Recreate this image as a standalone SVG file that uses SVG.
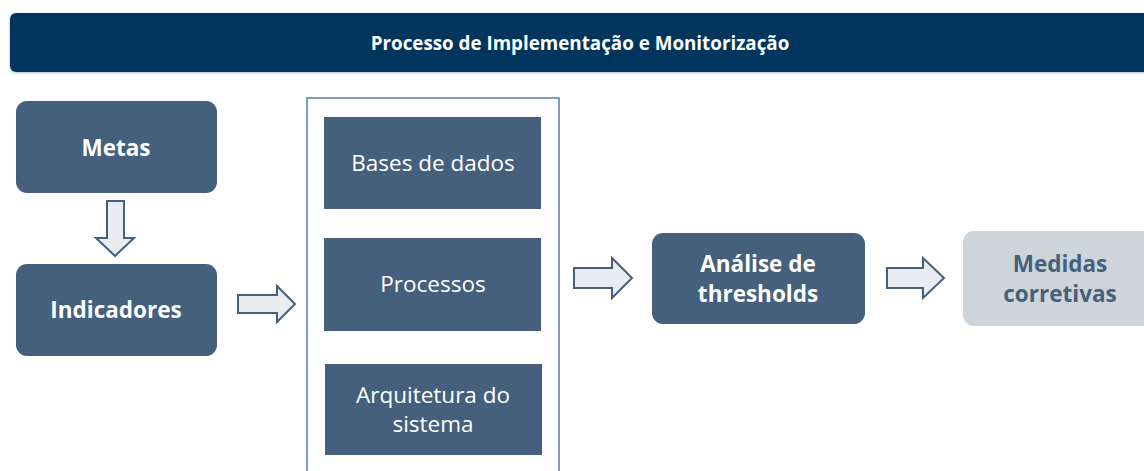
<svg xmlns="http://www.w3.org/2000/svg" width="1144" height="471" viewBox="0 0 1144 471">
<style>
.box{fill:#45607d;}
.lt{fill:#ffffff;font-family:"Open Sans","Liberation Sans",Arial,sans-serif;text-anchor:middle;font-size:22.5px;}
.b{font-weight:bold;}
.arr{fill:#e9edf2;stroke:#45607d;stroke-width:2;stroke-linejoin:miter;}
</style>
<defs>
<filter id="sh" x="-5%" y="-30%" width="110%" height="160%">
<feGaussianBlur in="SourceAlpha" stdDeviation="1.5"/>
<feOffset dx="0" dy="1" result="o"/>
<feFlood flood-color="#7a8ea6" flood-opacity="0.6"/>
<feComposite in2="o" operator="in"/>
<feMerge><feMergeNode/><feMergeNode in="SourceGraphic"/></feMerge>
</filter>
</defs>
<rect width="1144" height="471" fill="#ffffff"/>
<g id="header">
<rect x="10" y="13" width="1150" height="59" rx="6" fill="#03355d" filter="url(#sh)"/>
<text class="lt b" x="580" y="50" style="font-size:18.8px">Processo de Implementação e Monitorização</text>
</g>
<g id="metas">
<rect class="box" x="16" y="101" width="201" height="92" rx="11"/>
<text class="lt b" x="116" y="156">Metas</text>
</g>
<g id="indicadores">
<rect class="box" x="16" y="264" width="201" height="92" rx="11"/>
<text class="lt b" x="116" y="318">Indicadores</text>
</g>
<g id="container">
<rect x="307" y="98" width="252" height="390" fill="none" stroke="#5b7bab" stroke-width="1.5"/>
</g>
<g id="bases">
<rect class="box" x="324" y="117" width="217" height="92"/>
<text class="lt" x="433" y="171">Bases de dados</text>
</g>
<g id="processos">
<rect class="box" x="324" y="238" width="217" height="93"/>
<text class="lt" x="433" y="292">Processos</text>
</g>
<g id="arquitetura">
<rect class="box" x="325" y="364" width="217" height="91"/>
<text class="lt" x="433" y="403">Arquitetura do</text>
<text class="lt" x="433" y="432">sistema</text>
</g>
<g id="analise">
<rect class="box" x="652" y="233" width="213" height="91" rx="11"/>
<text class="lt b" x="758" y="272">Análise de</text>
<text class="lt b" x="758" y="302">thresholds</text>
</g>
<g id="medidas">
<rect x="963" y="231" width="200" height="95" rx="11" fill="#cdd5da"/>
<text class="lt b" x="1060" y="272" style="fill:#45607d">Medidas</text>
<text class="lt b" x="1060" y="302" style="fill:#45607d">corretivas</text>
</g>
<g id="connectors">
<polygon class="arr" points="107,201 124,201 124,238 134,238 115,256 96,238 107,238"/>
<polygon class="arr" points="238,295 277,295 277,286 295,304 277,322 277,313 238,313"/>
<polygon class="arr" points="574,268 612,268 612,258 632,278 612,298 612,288 574,288"/>
<polygon class="arr" points="887,268 923,268 923,258 944,278 923,298 923,288 887,288"/>
</g>
</svg>
